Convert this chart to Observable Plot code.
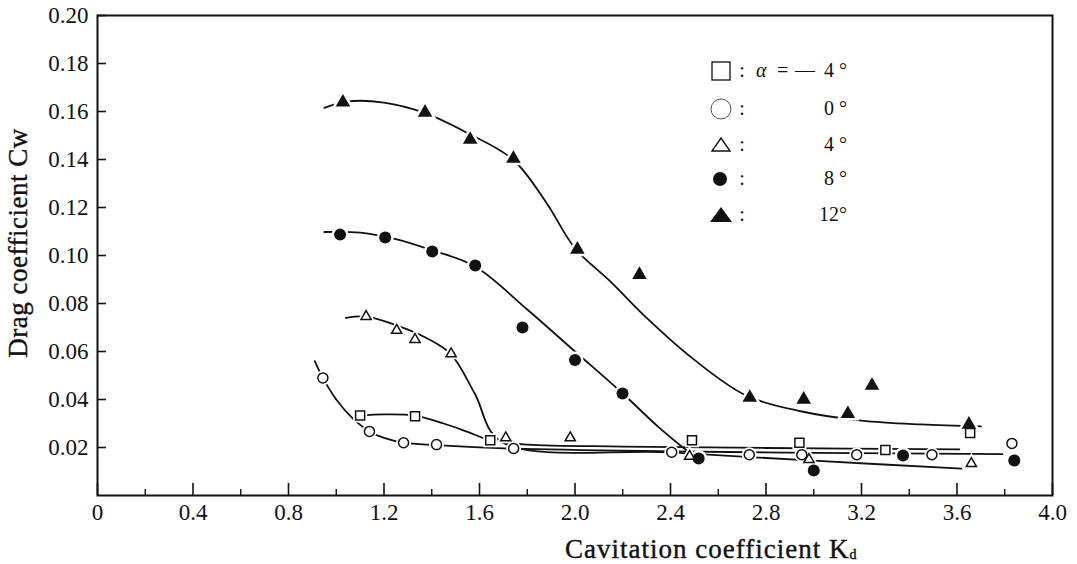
<!DOCTYPE html>
<html><head><meta charset="utf-8">
<script src="https://cdn.jsdelivr.net/npm/d3@7"></script>
<script src="https://cdn.jsdelivr.net/npm/@observablehq/plot@0.6"></script>
<style>
body{margin:0;background:#fff;}
#chart svg{display:block;}
#chart svg, #chart svg text{font-family:"Liberation Serif","Times New Roman",serif !important;}
</style></head><body><div id="chart"></div>
<script>
// ---- tick values / labels ----
const xMajor = [0, 0.4, 0.8, 1.2, 1.6, 2.0, 2.4, 2.8, 3.2, 3.6, 4.0];
const xMinor = [0.2, 0.6, 1.0, 1.4, 1.8, 2.2, 2.6, 3.0, 3.4, 3.8];
const xTickLabels = ["0", "0.4", "0.8", "1.2", "1.6", "2.0", "2.4", "2.8", "3.2", "3.6", "4.0"];
const yTicks = [0.02, 0.04, 0.06, 0.08, 0.10, 0.12, 0.14, 0.16, 0.18, 0.20];
const yTickLabels = ["0.02", "0.04", "0.06", "0.08", "0.10", "0.12", "0.14", "0.16", "0.18", "0.20"];

// ---- measured points: α = -4° (open squares) ----
const sqX = [1.10, 1.33, 1.645, 2.49, 2.94, 3.30, 3.655];
const sqY = [0.0333, 0.0330, 0.0230, 0.0230, 0.0220, 0.0190, 0.0260];
// α = 0° (open circles)
const ciX = [0.944, 1.139, 1.282, 1.42, 1.743, 2.405, 2.73, 2.95, 3.18, 3.495, 3.83];
const ciY = [0.0490, 0.0267, 0.0220, 0.0212, 0.0196, 0.0180, 0.0170, 0.0170, 0.0170, 0.0170, 0.0217];
// α = 4° (open triangles)
const toX = [1.125, 1.253, 1.33, 1.481, 1.71, 1.98, 2.48, 2.98, 3.66];
const toY = [0.0746, 0.0688, 0.0650, 0.0590, 0.0240, 0.0240, 0.0163, 0.0150, 0.0133];
// α = 8° (filled circles)
const fcX = [1.016, 1.205, 1.402, 1.582, 1.78, 2.0, 2.199, 2.518, 3.0, 3.374, 3.84];
const fcY = [0.1087, 0.1075, 0.1017, 0.0958, 0.0700, 0.0565, 0.0425, 0.0154, 0.0104, 0.0167, 0.0146];
// α = 12° (filled triangles)
const ftX = [1.028, 1.372, 1.561, 1.742, 2.01, 2.27, 2.732, 2.958, 3.143, 3.244, 3.65];
const ftY = [0.1638, 0.1596, 0.1483, 0.1404, 0.1025, 0.0920, 0.0408, 0.0400, 0.0340, 0.0458, 0.0296];

// ---- hand-drawn fitted curves ----
const fitM4X = [1.10, 1.20, 1.33, 1.45, 1.55, 1.645, 1.80, 2.20, 2.80, 3.61];
const fitM4Y = [0.0333, 0.0338, 0.0333, 0.0300, 0.0265, 0.0230, 0.0212, 0.0204, 0.0198, 0.0192];
const fit0X = [0.91, 0.944, 1.00, 1.07, 1.139, 1.20, 1.282, 1.42, 1.75, 2.40, 3.00, 3.79];
const fit0Y = [0.0560, 0.0490, 0.0400, 0.0320, 0.0267, 0.0240, 0.0220, 0.0210, 0.0195, 0.0184, 0.0178, 0.0172];
const fit4X = [1.04, 1.125, 1.25, 1.38, 1.481, 1.58, 1.69, 2.40, 3.00, 3.62];
const fit4Y = [0.0740, 0.0745, 0.0710, 0.0655, 0.0588, 0.0425, 0.0225, 0.0180, 0.0145, 0.0112];
const fit8X = [0.95, 1.10, 1.25, 1.40, 1.58, 1.80, 2.00, 2.20, 2.35, 2.48];
const fit8Y = [0.1098, 0.1095, 0.1068, 0.1022, 0.0955, 0.0775, 0.0600, 0.0425, 0.0285, 0.0178];
const fit12X = [0.95, 1.05, 1.20, 1.37, 1.55, 1.74, 1.88, 2.00, 2.15, 2.30, 2.50, 2.72, 2.95, 3.20, 3.45, 3.70];
const fit12Y = [0.1615, 0.1642, 0.1637, 0.1594, 0.1510, 0.1400, 0.1220, 0.1030, 0.0890, 0.0740, 0.0565, 0.0415, 0.0350, 0.0312, 0.0296, 0.0288];

const rows = (xs, ys) => xs.map((x, i) => ({x, y: ys[i]}));
const INK = "#111";

const pts = [
  {d: rows(sqX, sqY), symbol: "square", r: 5.1, fill: "white", sw: 1.5},
  {d: rows(ciX, ciY), symbol: "circle", r: 5, fill: "white", sw: 1.5},
  {d: rows(toX, toY), symbol: "triangle", r: 3.8, fill: "white", sw: 1.5},
  {d: rows(fcX, fcY), symbol: "circle", r: 6, fill: INK, sw: 0},
  {d: rows(ftX, ftY), symbol: "triangle", r: 5.4, fill: INK, sw: 0}
];
const fits = [rows(fitM4X, fitM4Y), rows(fit0X, fit0Y), rows(fit4X, fit4Y), rows(fit8X, fit8Y), rows(fit12X, fit12Y)];

const plot = Plot.plot({
  width: 1077, height: 564,
  marginLeft: 97, marginRight: 25, marginTop: 15, marginBottom: 69,
  style: {fontFamily: '"Liberation Serif", "Times New Roman", serif', fontSize: "23px", color: INK, background: "#fff"},
  x: {domain: [0, 4]},
  y: {domain: [0, 0.2]},
  marks: [
    Plot.frame({strokeWidth: 2}),
    Plot.axisX(xMajor, {tickSize: -12, fill: "none", strokeWidth: 1.6, label: null}),
    Plot.axisX(xMinor, {tickSize: -6, fill: "none", strokeWidth: 1.4, label: null}),
    Plot.axisX(xMajor, {tickSize: 0, tickPadding: 8, label: null, tickFormat: d => xTickLabels[xMajor.indexOf(d)]}),
    Plot.axisY(yTicks, {tickSize: -9, fill: "none", strokeWidth: 1.6, label: null}),
    Plot.axisY(yTicks, {tickSize: 0, tickPadding: 9, label: null, tickFormat: d => yTickLabels[yTicks.indexOf(d)]}),
    ...fits.map(f => Plot.line(f, {x: "x", y: "y", curve: "catmull-rom", stroke: INK, strokeWidth: 1.8})),
    ...pts.map(p => Plot.dot(p.d, {x: "x", y: "y", symbol: p.symbol, r: p.r, fill: "white", stroke: "white", strokeWidth: 5})),
    ...pts.map(p => Plot.dot(p.d, {x: "x", y: "y", symbol: p.symbol, r: p.r, fill: p.fill, stroke: INK, strokeWidth: p.sw || 0.01}))
  ]
});
document.getElementById("chart").appendChild(plot);

// ---- axis titles ----
const svg = d3.select(plot);
svg.append("text")
  .attr("transform", "translate(27,243) rotate(-90)")
  .attr("text-anchor", "middle")
  .attr("fill", INK).attr("stroke", INK).attr("stroke-width", 0.4)
  .style("font-size", "27px").style("letter-spacing", "0.5px")
  .text("Drag coefficient Cw");
const xt = svg.append("text")
  .attr("x", 565).attr("y", 558)
  .attr("text-anchor", "start")
  .attr("fill", INK).attr("stroke", INK).attr("stroke-width", 0.4)
  .style("font-size", "27px").style("letter-spacing", "1px");
xt.append("tspan").text("Cavitation coefficient K");
xt.append("tspan").attr("dy", 1).style("font-size", "14px").text("d");

// ---- legend ----
const legendLabels = ["4 °", "0 °", "4 °", "8 °", "12°"];
const rowY = [71, 109, 145, 179, 215];
const lg = svg.append("g").style("font-size", "20px").attr("fill", INK);
lg.append("rect").attr("x", 712).attr("y", 62).attr("width", 18).attr("height", 18).attr("fill", "white").attr("stroke", INK).attr("stroke-width", 1.3);
lg.append("circle").attr("cx", 721).attr("cy", rowY[1]).attr("r", 10).attr("fill", "white").attr("stroke", "#555").attr("stroke-width", 1);
lg.append("path").attr("d", `M712,${rowY[2] + 6}L730,${rowY[2] + 6}L721,${rowY[2] - 7}Z`).attr("fill", "white").attr("stroke", INK).attr("stroke-width", 1.4);
lg.append("circle").attr("cx", 720).attr("cy", rowY[3]).attr("r", 7).attr("fill", INK);
lg.append("path").attr("d", `M710,${rowY[4] + 7}L732,${rowY[4] + 7}L721,${rowY[4] - 8}Z`).attr("fill", INK);
rowY.forEach((y, i) => {
  lg.append("text").attr("x", 742).attr("y", y + 6).attr("text-anchor", "middle").text(":");
  lg.append("text").attr("x", 847).attr("y", y + 6).attr("text-anchor", "end").text(legendLabels[i]);
});
lg.append("text").attr("x", 756).attr("y", rowY[0] + 6).attr("text-anchor", "start").style("font-style", "italic").text("α");
lg.append("text").attr("x", 777).attr("y", rowY[0] + 6).attr("text-anchor", "start").text("=");
lg.append("text").attr("x", 795).attr("y", rowY[0] + 6).attr("text-anchor", "start").text("—");
</script>
</body></html>
